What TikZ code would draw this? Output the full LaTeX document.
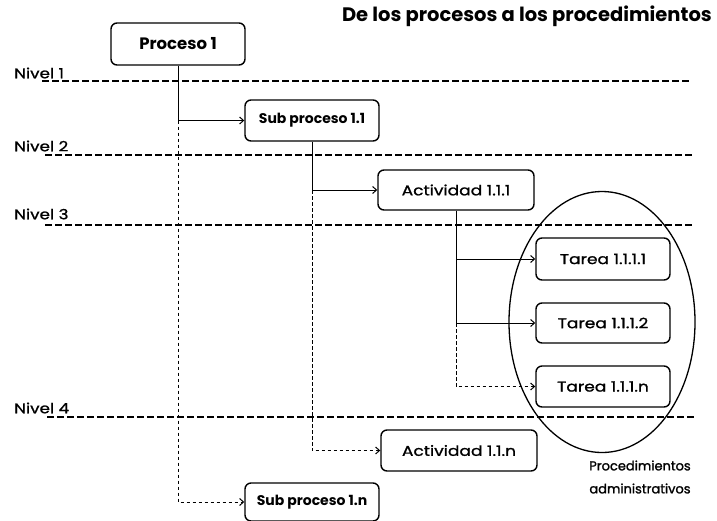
\documentclass[tikz,border=0pt]{standalone}
\usepackage{fontspec}
\setmainfont{Poppins}
\newfontfamily\regfont{Poppins}[FakeBold=1.2, FakeStretch=1.2]
\newfontfamily\medfont{Poppins}[FakeBold=1.4]
\usetikzlibrary{arrows.meta,shapes.geometric}
\tikzset{
  box/.style={draw, line width=1.4pt, rounded corners=6pt, inner sep=0pt, align=center},
  boldbox/.style={box, font=\bfseries\fontsize{14}{16}\selectfont},
  plainbox/.style={box, font=\regfont\fontsize{14.2}{16}\selectfont},
  levelline/.style={line width=1.1pt, dash pattern=on 7pt off 3pt},
  conn/.style={line width=1pt, -{Straight Barb[length=4pt,width=7pt]}},
  dconn/.style={conn, dash pattern=on 3.5pt off 2.5pt},
  lvl/.style={anchor=west, font=\regfont\fontsize{14}{16}\selectfont, inner sep=0pt},
}
\begin{document}
\begin{tikzpicture}[x=1pt,y=-1pt]
\useasboundingbox (0,0) rectangle (717,520);
% title
\node[anchor=east, inner sep=0pt, font=\bfseries\fontsize{19.5}{22}\selectfont] (title) at (712,16) {De los procesos a los procedimientos};
% level lines
\node[lvl] (n1) at (14,73) {Nivel 1};
\node[lvl] (n2) at (14,146) {Nivel 2};
\node[lvl] (n3) at (14,214) {Nivel 3};
\node[lvl] (n4) at (14,408) {Nivel 4};
\draw[levelline] (42,81) -- (692,81);
\draw[levelline] (45,155) -- (692,155);
\draw[levelline] (45,225) -- (695,225);
\draw[levelline] (47,417) -- (697,417);
% ellipse
\node[draw, line width=1.3pt, ellipse, minimum width=186pt, minimum height=261pt, inner sep=0pt] (ell) at (602,322) {};
% boxes
\node[box, font=\bfseries\fontsize{16.5}{19}\selectfont, minimum width=134pt, minimum height=42pt] (p1) at (178,44) {Proceso 1};
\node[boldbox, minimum width=134pt, minimum height=41pt] (s11) at (312,120.5) {Sub proceso 1.1};
\node[boldbox, minimum width=134pt, minimum height=38pt] (s1n) at (312,502) {Sub proceso 1.n};
\node[plainbox, minimum width=156pt, minimum height=40pt] (a111) at (456,190) {Actividad 1.1.1};
\node[plainbox, minimum width=156pt, minimum height=41pt] (a11n) at (459,450.5) {Actividad 1.1.n};
\node[plainbox, minimum width=134pt, minimum height=42pt] (t1) at (603,259) {Tarea 1.1.1.1};
\node[plainbox, minimum width=134pt, minimum height=40pt] (t2) at (603,323) {Tarea 1.1.1.2};
\node[plainbox, minimum width=134pt, minimum height=41pt] (tn) at (603,386.5) {Tarea 1.1.1.n};
\node[align=center, inner sep=0pt, font=\medfont\fontsize{13}{23}\selectfont] (lab) at (640,477) {Procedimientos\\administrativos};
% connectors
\coordinate (c1) at (p1.south |- s11.west);
\coordinate (c2) at (s11.south |- a111.west);
\coordinate (c3) at (a111.south |- t2.west);
\draw[conn] (p1.south) |- (s11.west);
\draw[dconn] (c1) |- (s1n.west);
\draw[conn] (s11.south) |- (a111.west);
\draw[dconn] (c2) |- (a11n.west);
\draw[conn] (a111.south) |- (t2.west);
\draw[conn] (a111.south |- t1.west) -- (t1.west);
\draw[dconn] (c3) |- (tn.west);
\end{tikzpicture}
\end{document}
